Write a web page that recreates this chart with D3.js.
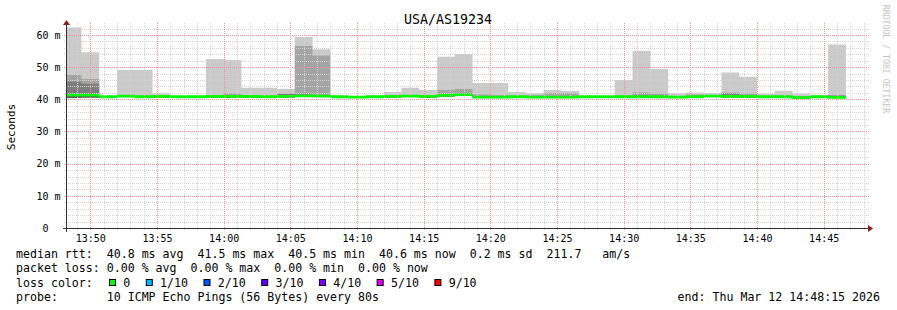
<!DOCTYPE html>
<html><head><meta charset="utf-8">
<script src="https://cdn.jsdelivr.net/npm/d3@7"></script>
<style>
html,body{margin:0;padding:0;background:#fff;}
svg{display:block;}
text{font-family:"DejaVu Sans Mono",monospace;}
</style></head><body>
<svg id="c" width="897" height="310"></svg>
<script>
// ---------------- data ----------------
const title = "USA/AS19234";
const yAxisTitle = "Seconds";
const watermark = "RRDTOOL / TOBI OETIKER";
const rangeStart = "13:48:15";
const rangeEnd = "14:48:15";
const firstStepStart = "13:48:00";
const stepEnds = ["13:49:20","13:50:40","13:52:00","13:53:20","13:54:40","13:56:00","13:57:20","13:58:40",
  "14:00:00","14:01:20","14:02:40","14:04:00","14:05:20","14:06:40","14:08:00","14:09:20","14:10:40",
  "14:12:00","14:13:20","14:14:40","14:16:00","14:17:20","14:18:40","14:20:00","14:21:20","14:22:40",
  "14:24:00","14:25:20","14:26:40","14:28:00","14:29:20","14:30:40","14:32:00","14:33:20","14:34:40",
  "14:36:00","14:37:20","14:38:40","14:40:00","14:41:20","14:42:40","14:44:00","14:45:20","14:46:40"];
// ms, per step
const maxPing = [62.3,54.6,41.1,49.1,49.1,41.9,41.1,41.1,52.5,52.2,43.6,43.6,43.2,59.4,55.6,41.3,41.0,
  41.3,42.3,43.6,42.9,53.2,54.1,45.1,45.1,42.3,41.9,42.9,42.6,41.0,41.0,46.0,55.1,49.4,41.9,42.1,42.0,
  48.3,47.0,41.7,42.7,41.7,41.2,57.0];
const ping9 = [47.6,46.3,41.0,41.3,41.1,41.2,41.0,41.0,41.3,41.9,41.1,41.0,41.75,56.6,53.6,41.0,40.9,
  41.0,41.1,41.2,41.2,42.9,43.2,41.5,41.3,41.0,41.2,42.0,42.0,40.9,40.9,41.1,42.1,41.8,41.0,41.5,41.2,
  42.1,41.8,41.1,41.1,41.0,41.1,41.3];
const ping8 = [45.5,44.8,40.9,41.1,41.0,41.0,40.9,40.9,41.1,41.2,41.0,40.9,41.7,41.6,41.3,40.9,40.8,
  40.9,41.0,41.1,41.0,41.5,41.8,41.0,41.0,40.9,41.1,41.0,41.0,40.9,40.9,40.9,41.2,41.1,40.9,41.0,41.1,
  41.7,41.2,41.0,41.0,40.8,40.9,41.1];
const ping7 = [41.6,41.6,40.9,41.0,40.9,40.9,40.9,40.9,41.0,41.0,40.9,40.9,41.2,41.4,41.2,40.9,40.8,
  40.9,40.9,41.0,40.9,41.3,41.5,40.8,40.8,40.9,40.9,40.9,40.9,40.8,40.8,40.9,41.0,41.0,40.8,40.9,41.0,
  41.1,41.0,40.9,40.9,40.7,40.9,40.9];
const median = [41.3,41.3,40.8,41.0,40.8,40.9,40.8,40.8,40.9,40.9,40.9,40.8,40.9,41.1,41.0,40.8,40.7,
  40.8,40.9,41.0,40.9,41.2,41.5,40.7,40.7,40.8,40.7,40.7,40.7,40.8,40.8,40.8,40.8,40.8,40.7,40.8,41.0,
  40.9,40.9,40.8,40.8,40.5,40.8,40.6];
const minPing = [40.4,40.6,40.6,40.7,40.6,40.6,40.6,40.6,40.6,40.6,40.6,40.6,40.6,40.8,40.7,40.6,40.5,
  40.6,40.6,40.7,40.6,40.9,41.1,40.5,40.5,40.6,40.5,40.5,40.5,40.6,40.6,40.6,40.6,40.6,40.5,40.6,40.7,
  40.6,40.6,40.6,40.6,40.3,40.6,40.4];
const xTickLabels = ["13:50","13:55","14:00","14:05","14:10","14:15","14:20","14:25","14:30","14:35","14:40","14:45"];
const yTickValues = [0,10,20,30,40,50,60];
const yTickLabels = ["0  ","10 m","20 m","30 m","40 m","50 m","60 m"];
const yMax = 63.1;
const lossLabels = ["0","1/10","2/10","3/10","4/10","5/10","9/10"];
const lossColors = ["#00ff00","#00b8ff","#0059ff","#5e00ff","#7e00ff","#dd00ff","#ff0000"];
const legendLines = [
  "median rtt:  40.8 ms avg  41.5 ms max  40.5 ms min  40.6 ms now  0.2 ms sd  211.7   am/s",
  "packet loss: 0.00 % avg  0.00 % max  0.00 % min  0.00 % now",
  "loss color:",
  "probe:       10 ICMP Echo Pings (56 Bytes) every 80s"
];
const endLabel = "end: Thu Mar 12 14:48:15 2026";
const smokeColors = ["#cacaca","#a4a4a4","#7e7e7e","#585858"];

// ---------------- drawing ----------------
const svg = d3.select("#c");
const parse = d3.timeParse("%H:%M:%S");
const parseHM = d3.timeParse("%H:%M");
const L = 67, R = 867, T = 25, B = 228;

const x = d3.scaleTime().domain([parse(rangeStart), parse(rangeEnd)]).range([L, R]);
const y = d3.scaleLinear().domain([0, yMax]).range([B, T]);

svg.append("defs").append("clipPath").attr("id","plotclip")
  .append("rect").attr("x",L).attr("y",T).attr("width",R-L).attr("height",B-T);

const pts = [{t: parse(firstStepStart), i: 0}].concat(stepEnds.map((s,i)=>({t: parse(s), i})));

const plot = svg.append("g").attr("clip-path","url(#plotclip)");
const layers = [maxPing, ping9, ping8, ping7];
layers.forEach((arr, k) => {
  const area = d3.area().curve(d3.curveStepBefore)
    .x(d => x(d.t)).y0(d => y(minPing[d.i])).y1(d => y(arr[d.i]));
  plot.append("path").datum(pts).attr("d", area).attr("fill", smokeColors[k]);
});

// grid (drawn over smoke, like rrdtool)
const grid = svg.append("g").attr("shape-rendering","crispEdges");
const minorX = x.ticks(d3.timeMinute.every(1));
const majorX = x.ticks(d3.timeMinute.every(5));
const majorSet = new Set(majorX.map(d=>+d));
grid.selectAll("line.vminor").data(minorX.filter(d=>!majorSet.has(+d))).enter().append("line")
  .attr("class","vminor")
  .attr("x1", d=>Math.round(x(d))+0.5).attr("x2", d=>Math.round(x(d))+0.5)
  .attr("y1", T-2).attr("y2", B+2)
  .attr("stroke","#d2d2d2").attr("stroke-dasharray","1,1");
const minorY = d3.range(0, yMax, 2).filter(v => v % 10 !== 0);
grid.selectAll("line.hminor").data(minorY).enter().append("line")
  .attr("class","hminor")
  .attr("x1", L-3).attr("x2", R+2)
  .attr("y1", d=>Math.round(y(d))+0.5).attr("y2", d=>Math.round(y(d))+0.5)
  .attr("stroke","#d2d2d2").attr("stroke-dasharray","1,1");
grid.selectAll("line.vmajor").data(majorX).enter().append("line")
  .attr("class","vmajor")
  .attr("x1", d=>Math.round(x(d))+0.5).attr("x2", d=>Math.round(x(d))+0.5)
  .attr("y1", T-2).attr("y2", B+2)
  .attr("stroke","#f29090").attr("stroke-dasharray","1,1");
grid.selectAll("line.hmajor").data(yTickValues.filter(v=>v>0)).enter().append("line")
  .attr("class","hmajor")
  .attr("x1", L-3).attr("x2", R+2)
  .attr("y1", d=>Math.round(y(d))+0.5).attr("y2", d=>Math.round(y(d))+0.5)
  .attr("stroke","#f29090").attr("stroke-dasharray","1,1");

// median band coloured by loss
const sw = 1.4;
const medArea = d3.area().curve(d3.curveStepBefore)
  .x(d => x(d.t)).y0(d => y(median[d.i]) + sw).y1(d => y(median[d.i]) - sw);
plot.append("path").datum(pts).attr("d", medArea).attr("fill", lossColors[0]);

// axes lines
svg.append("line").attr("x1",L-4).attr("x2",R+2).attr("y1",B+0.5).attr("y2",B+0.5)
  .attr("stroke","#333").attr("stroke-width",1);
svg.append("line").attr("x1",L-0.5).attr("x2",L-0.5).attr("y1",B+4).attr("y2",T-2)
  .attr("stroke","#333").attr("stroke-width",1);
svg.append("path").attr("d",`M${R+1},${B-3} L${R+6},${B+0.5} L${R+1},${B+4} Z`).attr("fill","#8b1c1c");
svg.append("path").attr("d",`M${L-4},${T} L${L-0.5},${T-5} L${L+3},${T} Z`).attr("fill","#8b1c1c");

// x axis labels
const xAxis = d3.axisBottom(x)
  .tickValues(xTickLabels.map(s => { const p = parseHM(s); return parse(d3.timeFormat("%H:%M:00")(p)); }))
  .tickFormat(d3.timeFormat("%H:%M")).tickSize(0).tickPadding(5);
const gx = svg.append("g").attr("transform",`translate(0,${B})`).call(xAxis);
gx.select(".domain").remove();
gx.selectAll("text").attr("font-family","DejaVu Sans Mono").attr("font-size","10px").attr("fill","#000")
  .attr("dy","0.85em");

// y axis labels
const yAxis = d3.axisLeft(y).tickValues(yTickValues)
  .tickFormat((d,i)=>yTickLabels[i]).tickSize(0).tickPadding(6);
const gy = svg.append("g").attr("transform",`translate(${L-0.5},0)`).call(yAxis);
gy.select(".domain").remove();
gy.selectAll("text").attr("font-family","DejaVu Sans Mono").attr("font-size","10px").attr("fill","#000")
  .style("white-space","pre");

// titles
svg.append("text").attr("x",448).attr("y",24).attr("text-anchor","middle")
  .attr("font-size","13.3px").attr("fill","#000").text(title);
svg.append("text").attr("transform","translate(15,127) rotate(-90)").attr("text-anchor","middle")
  .attr("font-size","11px").attr("fill","#000").text(yAxisTitle);
svg.append("text").attr("transform","translate(883,59) rotate(90)").attr("text-anchor","middle")
  .attr("font-size","8.2px").attr("fill","#c4c4c4").text(watermark);

// legend
const lg = svg.append("g").attr("font-size","11.6px").attr("fill","#000");
const baselines = [258, 272, 286.5, 300.5];
legendLines.forEach((s,i) => {
  lg.append("text").attr("x",16).attr("y",baselines[i]).style("white-space","pre").text(s);
});
let cx = 109;
const cw = 6.98;
lossLabels.forEach((lab,i) => {
  lg.append("rect").attr("x",cx+0.5).attr("y",279.5).attr("width",6).attr("height",6)
    .attr("fill",lossColors[i]).attr("stroke","#000").attr("stroke-width",1);
  lg.append("text").attr("x",cx+14.3).attr("y",baselines[2]).text(lab);
  cx = cx + 14.3 + lab.length*cw + 15.5;
});
lg.append("text").attr("x",880).attr("y",baselines[3]).attr("text-anchor","end").text(endLabel);
</script>
</body></html>
